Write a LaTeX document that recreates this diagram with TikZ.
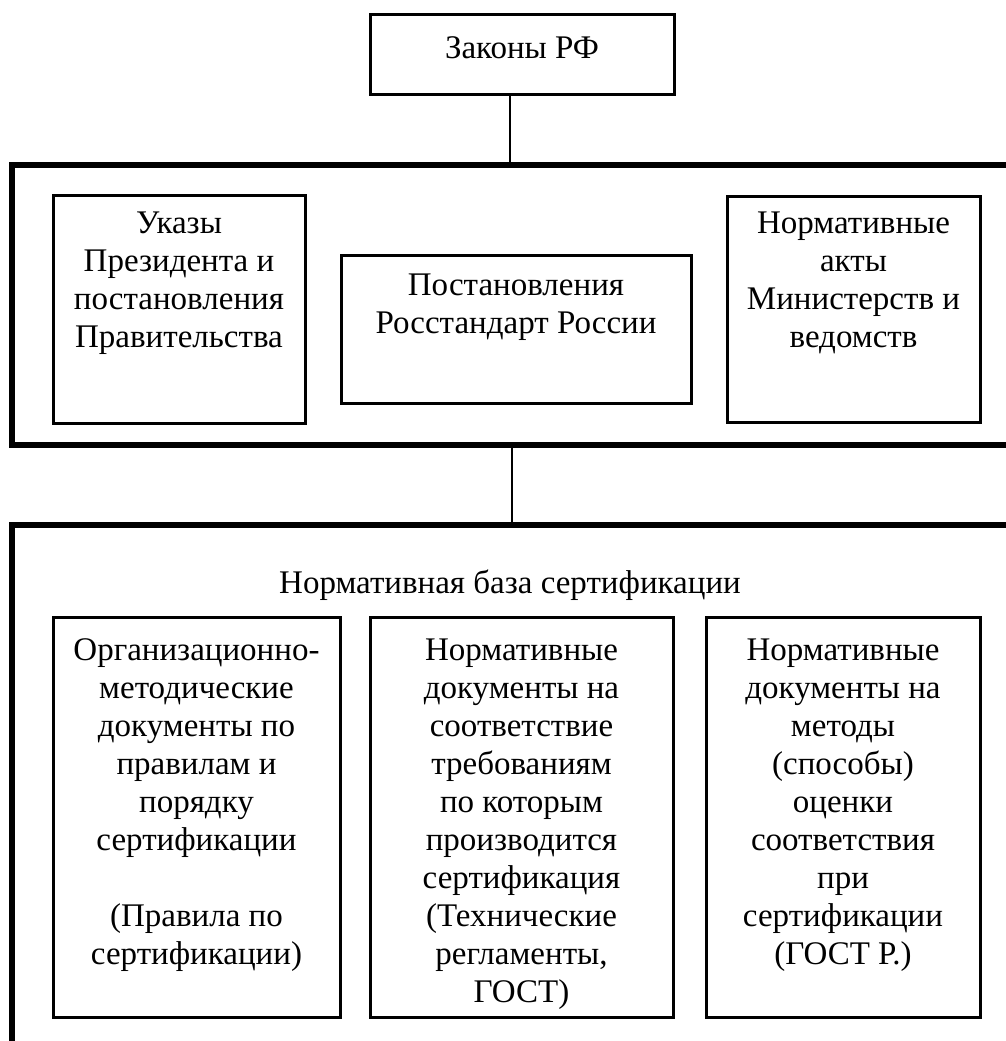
\documentclass[tikz,border=0pt]{standalone}
\usepackage{fontspec}
\setmainfont{Liberation Serif}
\begin{document}
\begin{tikzpicture}[x=1pt,y=-1pt,
  thickline/.style={line width=5.5pt},
  boxline/.style={draw, line width=3pt, inner sep=0pt, rectangle},
  conline/.style={line width=2.2pt},
  txt/.style={anchor=north, align=center, inner sep=0pt, font=\fontsize{33}{38}\selectfont}]
\useasboundingbox (0,0) rectangle (1006,1041);
\clip (0,0) rectangle (1006,1041);
% top box
\node[boxline, minimum width=304pt, minimum height=79pt] (zakony) at (522,54.5) {};
\node[txt] (zakonyT) at (522,31.4) {\strut Законы РФ};
% big box 1
\draw[thickline] (1040,165) -- (12,165) -- (12,445) -- (1040,445);
\coordinate (b1con) at (510,165);
\draw[conline] (zakony.south -| b1con) -- (b1con);
% inner boxes of box 1
\node[boxline, minimum width=252pt, minimum height=228pt] (ukazy) at (179,309) {};
\node[txt] (ukazyT) at (179,206.4) {\strut Указы\\Президента и\\постановления\\Правительства};
\node[boxline, minimum width=350pt, minimum height=148pt] (post) at (516,329) {};
\node[txt] (postT) at (516,268.4) {\strut Постановления\\Росстандарт России};
\node[boxline, minimum width=253pt, minimum height=226pt] (norm) at (853.5,309) {};
\node[txt] (normT) at (853.5,206.4) {\strut Нормативные\\акты\\Министерств и\\ведомств};
% big box 2 (open)
\draw[thickline] (12,1060) -- (12,525) -- (1040,525);
\coordinate (b1bot) at (512,445);
\coordinate (b2top) at (512,525);
\draw[conline] (b1bot) -- (b2top);
\node[txt] (baza) at (510,566.4) {\strut Нормативная база сертификации};
% inner boxes of box 2
\node[boxline, minimum width=287pt, minimum height=400pt] (org) at (196.5,817) {};
\node[txt] (orgT) at (196.5,633.4) {\strut Организационно-\\методические\\документы по\\правилам и\\порядку\\сертификации\\\strut\\(Правила по\\сертификации)};
\node[boxline, minimum width=303pt, minimum height=400pt] (sootv) at (521.5,817) {};
\node[txt] (sootvT) at (521.5,633.4) {\strut Нормативные\\документы на\\соответствие\\требованиям\\по которым\\производится\\сертификация\\(Технические\\регламенты,\\ГОСТ)};
\node[boxline, minimum width=274pt, minimum height=400pt] (metod) at (843,817) {};
\node[txt] (metodT) at (843,633.4) {\strut Нормативные\\документы на\\методы\\(способы)\\оценки\\соответствия\\при\\сертификации\\(ГОСТ Р.)};
\end{tikzpicture}
\end{document}
